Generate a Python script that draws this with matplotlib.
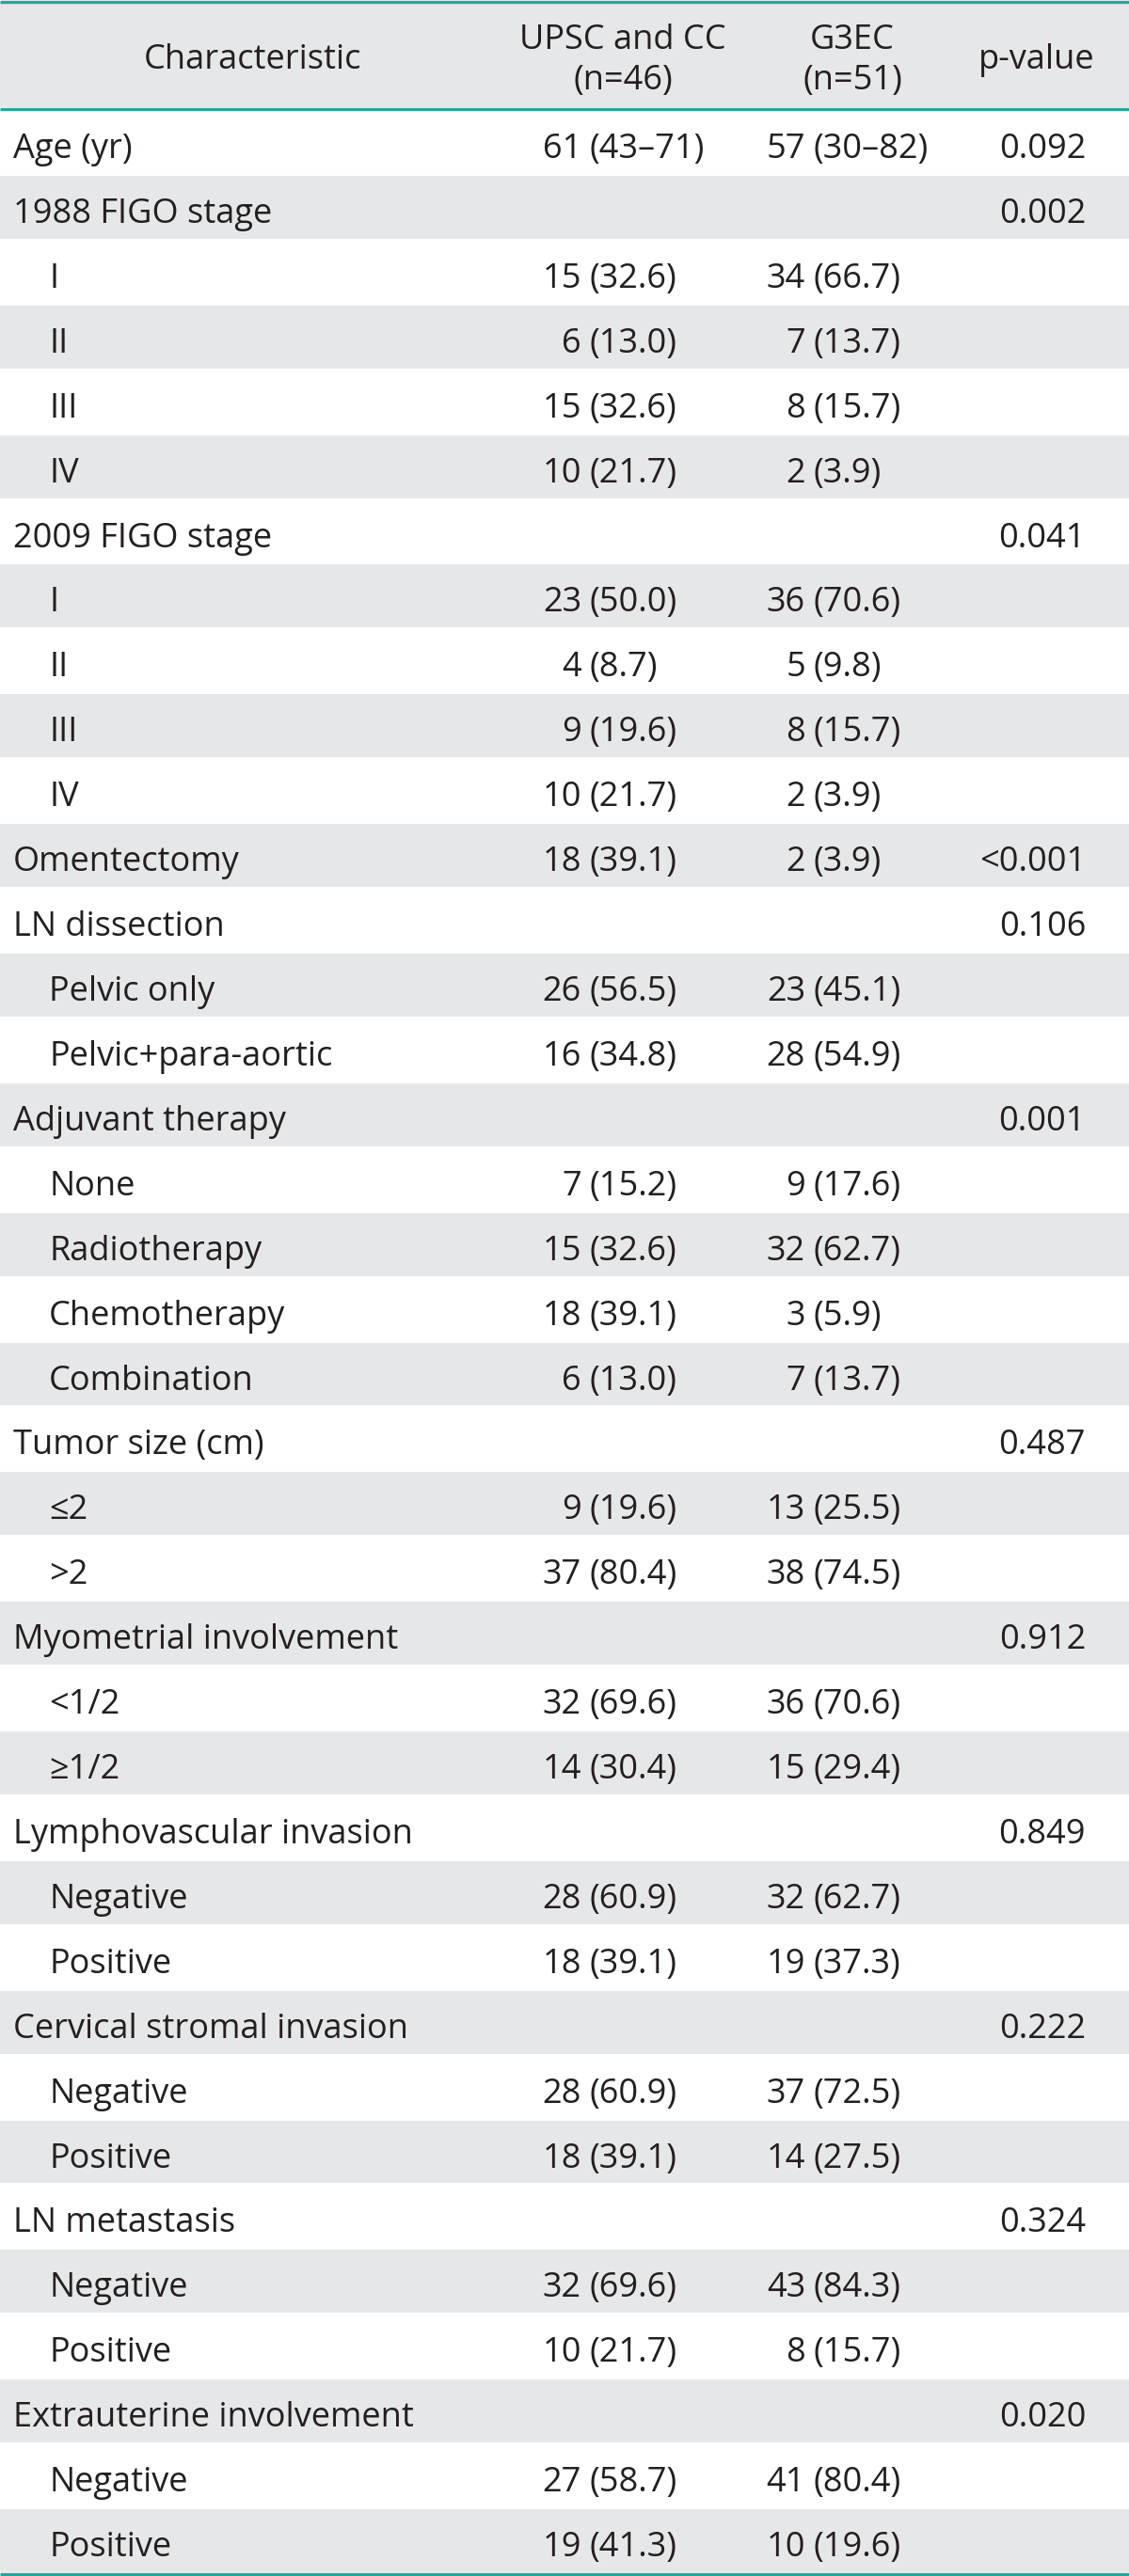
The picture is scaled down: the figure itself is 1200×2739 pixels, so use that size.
import matplotlib
matplotlib.use("Agg")
import matplotlib.pyplot as plt
from matplotlib.patches import Rectangle

plt.rcParams['font.family'] = ['Open Sans', 'DejaVu Sans']

# table content
labels = ["Age (yr)", "1988 FIGO stage", "I", "II", "III", "IV",
          "2009 FIGO stage", "I", "II", "III", "IV",
          "Omentectomy", "LN dissection", "Pelvic only", "Pelvic+para-aortic",
          "Adjuvant therapy", "None", "Radiotherapy", "Chemotherapy", "Combination",
          "Tumor size (cm)", "\u22642", ">2",
          "Myometrial involvement", "<1/2", "\u22651/2",
          "Lymphovascular invasion", "Negative", "Positive",
          "Cervical stromal invasion", "Negative", "Positive",
          "LN metastasis", "Negative", "Positive",
          "Extrauterine involvement", "Negative", "Positive"]
indent = [0, 0, 1, 1, 1, 1,
          0, 1, 1, 1, 1,
          0, 0, 1, 1,
          0, 1, 1, 1, 1,
          0, 1, 1,
          0, 1, 1,
          0, 1, 1,
          0, 1, 1,
          0, 1, 1,
          0, 1, 1]
upsc = ["61 (43\u201371)", "", "15 (32.6)", "6 (13.0)", "15 (32.6)", "10 (21.7)",
        "", "23 (50.0)", "4 (8.7)", "9 (19.6)", "10 (21.7)",
        "18 (39.1)", "", "26 (56.5)", "16 (34.8)",
        "", "7 (15.2)", "15 (32.6)", "18 (39.1)", "6 (13.0)",
        "", "9 (19.6)", "37 (80.4)",
        "", "32 (69.6)", "14 (30.4)",
        "", "28 (60.9)", "18 (39.1)",
        "", "28 (60.9)", "18 (39.1)",
        "", "32 (69.6)", "10 (21.7)",
        "", "27 (58.7)", "19 (41.3)"]
g3ec = ["57 (30\u201382)", "", "34 (66.7)", "7 (13.7)", "8 (15.7)", "2 (3.9)",
        "", "36 (70.6)", "5 (9.8)", "8 (15.7)", "2 (3.9)",
        "2 (3.9)", "", "23 (45.1)", "28 (54.9)",
        "", "9 (17.6)", "32 (62.7)", "3 (5.9)", "7 (13.7)",
        "", "13 (25.5)", "38 (74.5)",
        "", "36 (70.6)", "15 (29.4)",
        "", "32 (62.7)", "19 (37.3)",
        "", "37 (72.5)", "14 (27.5)",
        "", "43 (84.3)", "8 (15.7)",
        "", "41 (80.4)", "10 (19.6)"]
pvals = ["0.092", "0.002", "", "", "", "",
         "0.041", "", "", "", "",
         "<0.001", "0.106", "", "",
         "0.001", "", "", "", "",
         "0.487", "", "",
         "0.912", "", "",
         "0.849", "", "",
         "0.222", "", "",
         "0.324", "", "",
         "0.020", "", ""]

W, H = 1200, 2739
gray = "#e6e7e8"
teal = "#29a59b"
fs = 26

fig = plt.figure(figsize=(W / 100, H / 100), dpi=100)
ax = fig.add_axes([0, 0, 1, 1])
ax.set_xlim(0, W)
ax.set_ylim(H, 0)
ax.axis("off")

top = 117
rh = (H - 3 - top) / len(labels)

# header
ax.add_patch(Rectangle((0, 3), W, top - 6, color=gray, lw=0))
ax.text(268, 73, "Characteristic", ha="center", va="baseline", fontsize=fs, color="#231f20")
ax.text(662, 52, "UPSC and CC", ha="center", va="baseline", fontsize=fs, color="#231f20")
ax.text(662, 95, "(n=46)", ha="center", va="baseline", fontsize=fs, color="#231f20")
ax.text(906, 52, "G3EC", ha="center", va="baseline", fontsize=fs, color="#231f20")
ax.text(906, 95, "(n=51)", ha="center", va="baseline", fontsize=fs, color="#231f20")
ax.text(1102, 73, "p-value", ha="center", va="baseline", fontsize=fs, color="#231f20")


def cell(x_paren, y, s):
    # align on the opening parenthesis
    if not s:
        return
    n, rest = s.split(" ", 1)
    ax.text(x_paren - 8, y, n, ha="right", va="baseline", fontsize=fs, color="#231f20")
    ax.text(x_paren, y, rest, ha="left", va="baseline", fontsize=fs, color="#231f20")


for i, lab in enumerate(labels):
    y0 = top + i * rh
    if i % 2 == 1:
        ax.add_patch(Rectangle((0, y0 + 1), W, rh - 2, color=gray, lw=0))
    yb = y0 + 51
    ax.text(52 if indent[i] else 14, yb, lab, ha="left", va="baseline", fontsize=fs, color="#231f20")
    cell(626, yb, upsc[i])
    cell(864, yb, g3ec[i])
    if pvals[i]:
        ax.text(1154, yb, pvals[i], ha="right", va="baseline", fontsize=fs, color="#231f20")

for y in [1.5, top - 1.5, H - 2]:
    ax.plot([0, W], [y, y], color=teal, lw=2.4, solid_capstyle="butt")

fig.savefig("out.png", dpi=100)
